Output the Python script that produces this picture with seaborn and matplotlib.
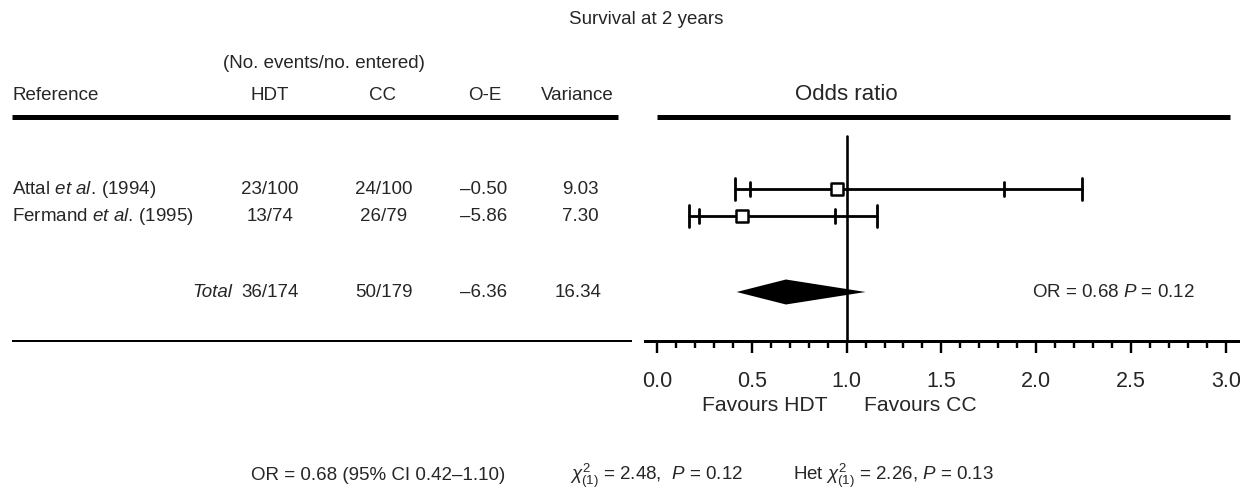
import numpy as np
import pandas as pd
import matplotlib
matplotlib.use("Agg")
import matplotlib.pyplot as plt
from matplotlib.ticker import FixedLocator, FixedFormatter
import seaborn as sns

# ---------------- data ----------------
study_names = ["Attal", "Fermand"]
study_years = ["1994", "1995"]
hdt_events = [23, 13]
hdt_entered = [100, 74]
cc_events = [24, 26]
cc_entered = [100, 79]
o_minus_e = [-0.50, -5.86]
variance = [9.03, 7.30]
odds_ratio = [0.95, 0.45]
ci95_low = [0.49, 0.22]
ci95_high = [1.83, 0.94]
ci99_low = [0.41, 0.17]
ci99_high = [2.24, 1.16]

total_hdt = [36, 174]
total_cc = [50, 179]
total_oe = -6.36
total_var = 16.34
total_or = 0.68
total_ci = [0.42, 1.10]
total_p = 0.12
chi2_assoc = 2.48
chi2_p = 0.12
het_chi2 = 2.26
het_p = 0.13

major_ticks = [0.0, 0.5, 1.0, 1.5, 2.0, 2.5, 3.0]
major_labels = ["0.0", "0.5", "1.0", "1.5", "2.0", "2.5", "3.0"]
minor_ticks = [round(0.1 * i, 1) for i in range(31)]

# ---------------- style ----------------
sns.set_theme(style="white")
plt.rcParams["font.family"] = ["Liberation Sans", "DejaVu Sans"]
plt.rcParams["mathtext.fontset"] = "custom"
plt.rcParams["mathtext.rm"] = "Liberation Sans"
plt.rcParams["mathtext.it"] = "Liberation Sans:italic"
plt.rcParams["mathtext.bf"] = "Liberation Sans:bold"

W, H = 1240, 502
PX = 0.72  # points per pixel at dpi 100
fig = plt.figure(figsize=(W / 100, H / 100), dpi=100)

def fmt_signed(v):
    return f"{v:.2f}".replace("-", "\u2013")

# table layer in pixel coordinates
tab = fig.add_axes([0, 0, 1, 1])
tab.set_xlim(0, W)
tab.set_ylim(H, 0)
tab.axis("off")

fs = 13.5
row_y = [190, 217]
total_y = 293
axis_y = 342

tab.text(646, 20, "Survival at 2 years", ha="center", va="center", fontsize=fs)
tab.text(324, 63, "(No. events/no. entered)", ha="center", va="center", fontsize=fs)
tab.text(12, 95, "Reference", ha="left", va="center", fontsize=fs)
tab.text(270, 95, "HDT", ha="center", va="center", fontsize=fs)
tab.text(383, 95, "CC", ha="center", va="center", fontsize=fs)
tab.text(485, 95, "O-E", ha="center", va="center", fontsize=fs)
tab.text(577, 95, "Variance", ha="center", va="center", fontsize=fs)
tab.plot([12, 618], [118, 118], color="black", lw=5 * PX, solid_capstyle="butt")
tab.plot([12, 632], [axis_y, axis_y], color="black", lw=2 * PX, solid_capstyle="butt")

for i in range(len(study_names)):
    y = row_y[i]
    label = (r"$\mathrm{" + study_names[i] + r"}\ \mathit{et\ al.}\,\mathrm{(" +
             study_years[i] + r")}$")
    tab.text(12, y, label, ha="left", va="center", fontsize=fs)
    tab.text(270, y, f"{hdt_events[i]}/{hdt_entered[i]}", ha="center", va="center", fontsize=fs)
    tab.text(384, y, f"{cc_events[i]}/{cc_entered[i]}", ha="center", va="center", fontsize=fs)
    tab.text(484, y, fmt_signed(o_minus_e[i]), ha="center", va="center", fontsize=fs)
    tab.text(580, y, f"{variance[i]:.2f}", ha="center", va="center", fontsize=fs)

tab.text(212, total_y, "Total", ha="center", va="center", fontsize=fs, style="italic")
tab.text(270, total_y, f"{total_hdt[0]}/{total_hdt[1]}", ha="center", va="center", fontsize=fs)
tab.text(384, total_y, f"{total_cc[0]}/{total_cc[1]}", ha="center", va="center", fontsize=fs)
tab.text(484, total_y, fmt_signed(total_oe), ha="center", va="center", fontsize=fs)
tab.text(578, total_y, f"{total_var:.2f}", ha="center", va="center", fontsize=fs)

tab.text(251, 476, f"OR = {total_or:.2f} (95% CI {total_ci[0]:.2f}\u2013{total_ci[1]:.2f})",
         ha="left", va="center", fontsize=fs)
tab.text(570, 476, r"$\chi^{2}_{(1)}$" + f" = {chi2_assoc:.2f},  " + r"$P$" + f" = {chi2_p:.2f}",
         ha="left", va="center", fontsize=fs)
tab.text(793, 476, "Het " + r"$\chi^{2}_{(1)}$" + f" = {het_chi2:.2f}, " + r"$P$" + f" = {het_p:.2f}",
         ha="left", va="center", fontsize=fs)

# forest axes: x = odds ratio, y in pixel rows
x0_px, unit_px = 657.0, 189.6
ax_left_px, ax_right_px = 645.0, 1240.0
ax = fig.add_axes([ax_left_px / W, (H - axis_y) / H,
                   (ax_right_px - ax_left_px) / W, axis_y / H])
ax.set_facecolor("none")
ax.set_xlim((ax_left_px - x0_px) / unit_px, (ax_right_px - x0_px) / unit_px)
ax.set_ylim(axis_y, 0)
for side in ["top", "right", "left"]:
    ax.spines[side].set_visible(False)
ax.spines["bottom"].set_linewidth(3 * PX)
ax.spines["bottom"].set_color("black")
ax.set_yticks([])
ax.xaxis.set_major_locator(FixedLocator(major_ticks))
ax.xaxis.set_major_formatter(FixedFormatter(major_labels))
ax.xaxis.set_minor_locator(FixedLocator(minor_ticks))
ax.tick_params(axis="x", which="major", direction="out", length=12 * PX, width=2.4 * PX,
               color="black", labelsize=15.5, pad=12, bottom=True)
ax.tick_params(axis="x", which="minor", direction="out", length=7 * PX, width=2.4 * PX,
               color="black", bottom=True)

# header line and label of the forest part
ax.plot([0.0, 3.02], [118, 118], color="black", lw=5 * PX, solid_capstyle="butt", clip_on=False)
ax.text(1.0, 95, "Odds ratio", ha="center", va="center", fontsize=16)

# line of no effect
ax.plot([1.0, 1.0], [137, axis_y], color="black", lw=2.6 * PX, zorder=5)

lw_ci = 2.8 * PX
for i in range(len(study_names)):
    y = row_y[i]
    ax.plot([ci99_low[i], ci99_high[i]], [y, y], color="black", lw=lw_ci, zorder=3)
    for xv in (ci99_low[i], ci99_high[i]):
        ax.plot([xv, xv], [y - 11, y + 11], color="black", lw=lw_ci, zorder=3)
    for xv in (ci95_low[i], ci95_high[i]):
        ax.plot([xv, xv], [y - 7, y + 7], color="black", lw=lw_ci, zorder=3)

df = pd.DataFrame({"or": odds_ratio, "y": row_y})
sns.scatterplot(data=df, x="or", y="y", marker="s", s=68, color="white",
                edgecolor="black", linewidth=1.8, ax=ax, zorder=6, legend=False)
ax.set_xlabel("")
ax.set_ylabel("")

# pooled diamond
dh = 12.5
ax.fill([total_ci[0], total_or, total_ci[1], total_or],
        [total_y, total_y - dh, total_y, total_y + dh], color="black", zorder=4, lw=0)
ax.text((1032 - x0_px) / unit_px, total_y,
        f"OR = {total_or:.2f} " + r"$P$" + f" = {total_p:.2f}", ha="left", va="center", fontsize=fs)

ax.text((828 - x0_px) / unit_px, 406, "Favours HDT", ha="right", va="center",
        fontsize=15.2, clip_on=False)
ax.text((864 - x0_px) / unit_px, 406, "Favours CC", ha="left", va="center",
        fontsize=15.2, clip_on=False)

fig.savefig("out.png", dpi=100, facecolor="white")
